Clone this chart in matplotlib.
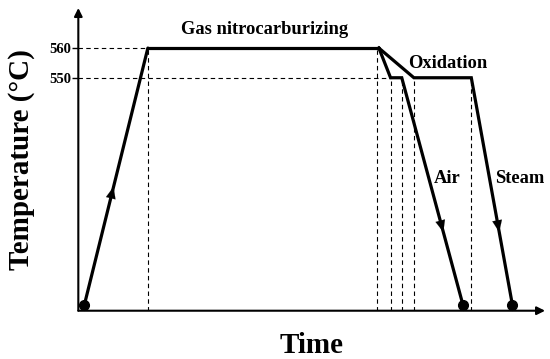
import matplotlib
matplotlib.use("Agg")
import matplotlib.pyplot as plt

# Schematic data (time in arbitrary units, temperature in degC)
t_ramp = [1.3, 14.9]
T_ramp = [473.5, 560]
t_hold = [14.9, 64.4]
T_hold = [560, 560]
t_air = [64.4, 66.9, 69.3, 82.4]
T_air = [560, 550, 550, 473.5]
t_steam = [64.4, 71.9, 84.2, 93.0]
T_steam = [560, 550, 550, 473.5]
yticks = [550, 560]
ytick_labels = ["550", "560"]
label_text = ["Gas nitrocarburizing", "Oxidation", "Air", "Steam"]
label_x = [40.0, 79.1, 79.0, 94.6]
label_y = [566.1, 554.9, 516.2, 516.2]

YMIN, YMAX = 471.5, 573.5
XMIN, XMAX = 0, 100

plt.rcParams['font.family'] = ['Liberation Serif', 'DejaVu Serif']
plt.rcParams['font.weight'] = 'bold'

fig = plt.figure(figsize=(5.5, 3.59), dpi=100)
ax = fig.add_axes([0.1424, 0.1345, 0.991 - 0.1424, 0.9777 - 0.1345])
ax.set_xlim(XMIN, XMAX)
ax.set_ylim(YMIN, YMAX)
for s in ax.spines.values():
    s.set_visible(False)

# axes with arrows
ax.annotate("", xy=(0, 1), xytext=(0, 0), xycoords='axes fraction',
            arrowprops=dict(arrowstyle="-|>", lw=1.5, color='black',
                            mutation_scale=12, shrinkA=0, shrinkB=0))
ax.annotate("", xy=(1, 0), xytext=(0, 0), xycoords='axes fraction',
            arrowprops=dict(arrowstyle="-|>", lw=1.5, color='black',
                            mutation_scale=12, shrinkA=0, shrinkB=0))

ax.set_xticks([])
ax.set_yticks(yticks)
ax.set_yticklabels(ytick_labels, fontsize=10.5, fontweight='bold')
ax.tick_params(axis='y', length=4, width=1, pad=1)

dash = dict(color='black', lw=0.8, ls=(0, (4, 3)))
# horizontal dashed guides
ax.plot([XMIN, t_ramp[1]], [560, 560], **dash)
ax.plot([XMIN, t_air[1]], [550, 550], **dash)
# vertical dashed guides
for x, y in [(t_ramp[1], 560), (t_hold[1] - 0.5, 560), (t_air[1], 550), (t_air[2], 550),
             (t_steam[1], 550), (t_steam[2], 550)]:
    ax.plot([x, x], [YMIN, y], **dash)

lw = 2.3
ax.plot(t_ramp, T_ramp, color='black', lw=lw, solid_capstyle='round')
ax.plot(t_hold, T_hold, color='black', lw=lw, solid_capstyle='round')
ax.plot(t_air, T_air, color='black', lw=lw, solid_joinstyle='miter')
ax.plot(t_steam, T_steam, color='black', lw=lw, solid_joinstyle='miter')

# end dots
ax.plot([t_ramp[0], t_air[-1], t_steam[-1]], [T_ramp[0], T_air[-1], T_steam[-1]],
        'o', color='black', ms=7)

# direction arrows at mid segments
def mid_arrow(x0, y0, x1, y1, frac):
    xa = x0 + (x1 - x0) * frac
    ya = y0 + (y1 - y0) * frac
    xb = x0 + (x1 - x0) * (frac - 0.08)
    yb = y0 + (y1 - y0) * (frac - 0.08)
    ax.annotate("", xy=(xa, ya), xytext=(xb, yb),
                arrowprops=dict(arrowstyle="-|>,head_length=0.6,head_width=0.25",
                                lw=0.1, color='black', mutation_scale=14,
                                shrinkA=0, shrinkB=0))

mid_arrow(t_ramp[0], T_ramp[0], t_ramp[1], T_ramp[1], 0.46)
mid_arrow(t_air[2], T_air[2], t_air[3], T_air[3], 0.68)
mid_arrow(t_steam[2], T_steam[2], t_steam[3], T_steam[3], 0.68)

for txt, x, y in zip(label_text, label_x, label_y):
    ax.text(x, y, txt, fontsize=13.3, fontweight='bold', ha='center', va='center')

ax.set_xlabel("Time", fontsize=21, fontweight='bold', labelpad=15)
ax.set_ylabel("Temperature (°C)", fontsize=21, fontweight='bold', labelpad=10)

fig.savefig("out.png", dpi=100)
